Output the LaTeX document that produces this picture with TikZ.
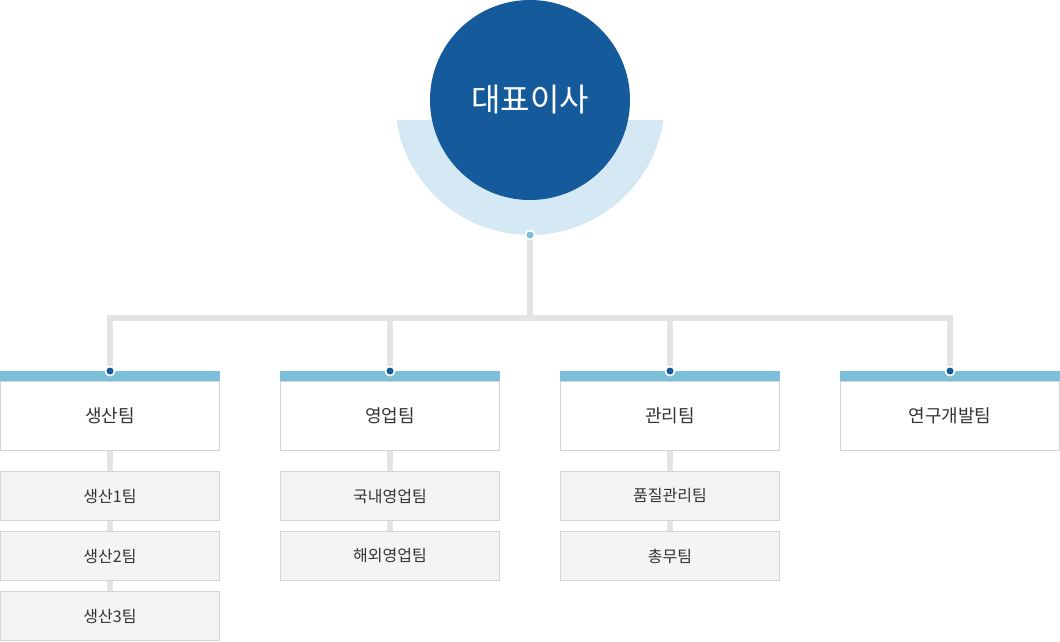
\documentclass[tikz,border=0pt]{standalone}
\usepackage{fontspec}
\setmainfont{Noto Sans CJK KR}
\definecolor{ceo}{HTML}{155A9A}
\definecolor{halo}{HTML}{D4E9F4}
\definecolor{teal}{HTML}{7BC0D8}
\definecolor{linegray}{HTML}{E3E3E3}
\definecolor{boxborder}{HTML}{D5D5D5}
\definecolor{subfill}{HTML}{F4F4F4}
\definecolor{txt}{HTML}{333333}
\tikzset{
  conn/.style={draw=linegray, line width=6pt},
  teambox/.style={draw=boxborder, fill=white, line width=1pt, minimum width=219pt, minimum height=69pt, inner sep=0pt, text=txt, font=\fontsize{18}{20}\selectfont},
  subbox/.style={draw=boxborder, fill=subfill, line width=1pt, minimum width=219pt, minimum height=49pt, inner sep=0pt, text=txt, font=\fontsize{16}{18}\selectfont},
  tealbar/.style={fill=teal, minimum width=220pt, minimum height=10pt, inner sep=0pt, draw=none},
}
\begin{document}
\begin{tikzpicture}[x=1pt, y=-1pt]
\useasboundingbox (0,0) rectangle (1060,641);
% halo
\begin{scope}
  \clip (380,120) rectangle (680,250);
  \fill[halo] (530,100) circle (135);
\end{scope}
\node[circle, fill=ceo, minimum size=200pt, inner sep=0pt, text=white, font=\fontsize{32}{34}\selectfont] (ceo) at (530,100) {대표이사};
\coordinate (cdot) at (530,235);
\coordinate (hub) at (530,318);
% team positions
\foreach \n/\x in {a/110, b/390, c/670, d/950}{
  \coordinate (\n top) at (\x,371);
  \coordinate (\n hub) at (\x,318);
}
% connectors
\draw[conn] (cdot) -- (hub);
\draw[conn, line cap=rect] (ahub) -- (dhub);
\foreach \n in {a,b,c,d}{ \draw[conn] (\n hub) -- (\n top); }
% sub connectors
\draw[conn] (110,450) -- (110,615);
\draw[conn] (390,450) -- (390,555);
\draw[conn] (670,450) -- (670,555);
% team boxes
\foreach \n/\x/\t in {a/110/생산팀, b/390/영업팀, c/670/관리팀, d/950/연구개발팀}{
  \node[teambox] (\n) at (\x,415.5) {\t};
  \node[tealbar] (\n bar) at (\x,376) {};
}
% sub boxes
\node[subbox] (a1) at (110,496) {생산1팀};
\node[subbox] (a2) at (110,556) {생산2팀};
\node[subbox] (a3) at (110,616) {생산3팀};
\node[subbox] (b1) at (390,496) {국내영업팀};
\node[subbox] (b2) at (390,556) {해외영업팀};
\node[subbox] (c1) at (670,496) {품질관리팀};
\node[subbox] (c2) at (670,556) {총무팀};
% dots
\fill[white] (cdot) circle (5.5);
\fill[teal] (cdot) circle (3.5);
\foreach \n in {a,b,c,d}{
  \fill[white] (\n top) circle (5.5);
  \fill[ceo] (\n top) circle (3.5);
}
\end{tikzpicture}
\end{document}
